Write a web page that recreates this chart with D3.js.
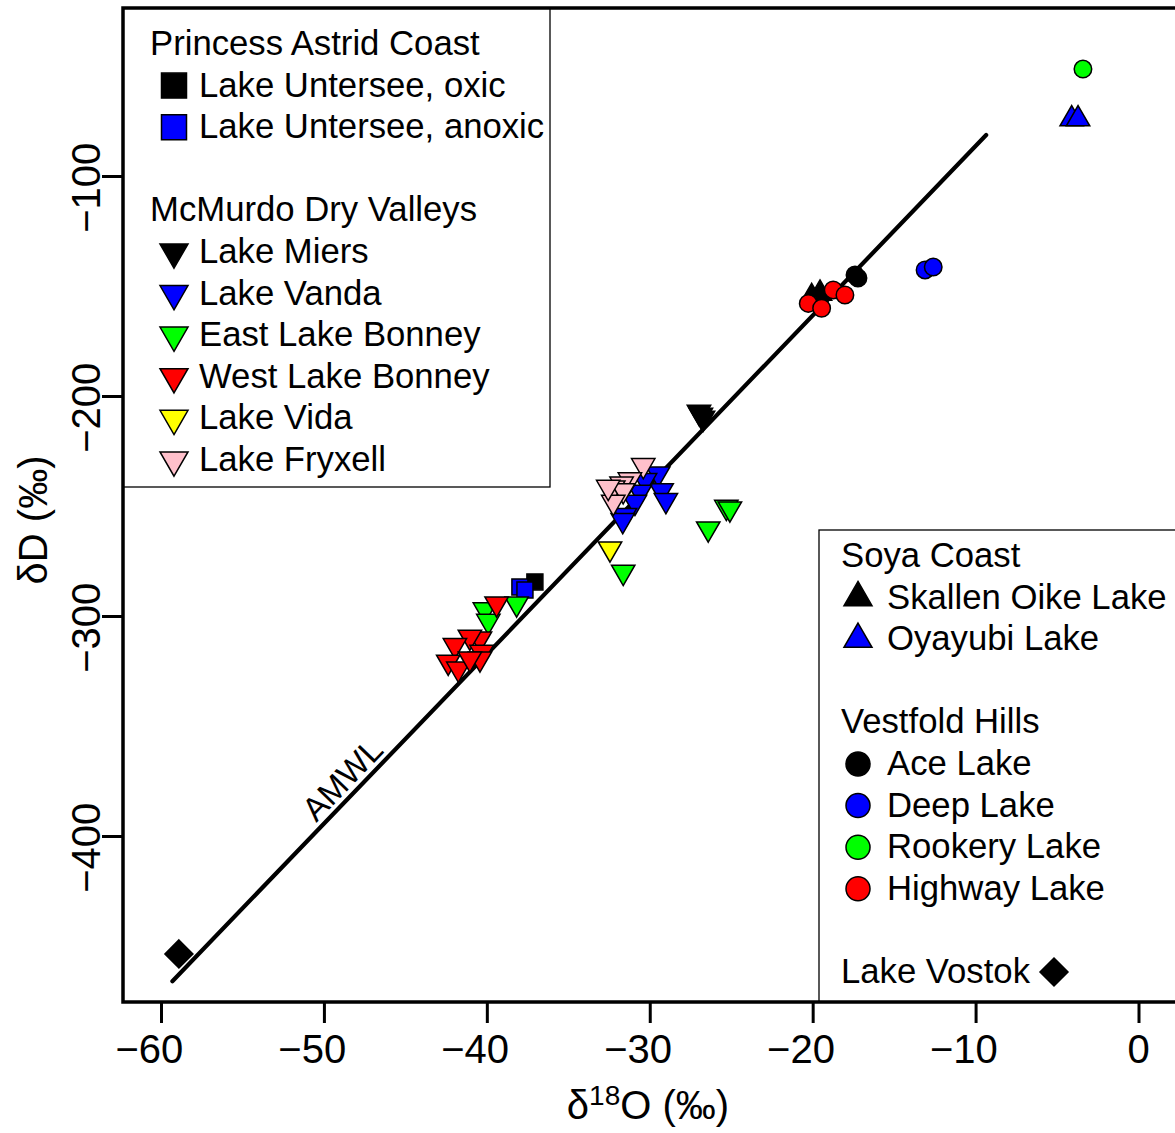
<!DOCTYPE html>
<html>
<head>
<meta charset="utf-8">
<script src="https://cdn.jsdelivr.net/npm/d3@7"></script>
<style>
  body { margin: 0; background: #fff; }
  svg { display: block; }
  text { font-family: "Liberation Sans", Arial, Helvetica, sans-serif; fill: #000; }
</style>
</head>
<body>
<svg id="chart" width="1175" height="1133"></svg>
<script>
// ---- axis ticks ----
const xTicks = [-60, -50, -40, -30, -20, -10, 0];
const yTicks = [-100, -200, -300, -400];

// ---- isotope data: [δ18O, δD] in ‰ ----
// Princess Astrid Coast
const unterseeOxic   = [[-37.05, -284.5]];
const unterseeAnoxic = [[-37.97, -286.8], [-37.66, -288.2]];
// McMurdo Dry Valleys
const lakeMiers = [[-26.98, -207.3], [-26.86, -208.6], [-26.73, -210.0]];
const lakeVanda = [[-29.48, -235.3], [-29.27, -242.9], [-29.01, -247.4], [-30.29, -238.3],
                   [-30.60, -243.6], [-30.91, -248.2], [-31.52, -254.2], [-31.66, -256.5]];
const eastBonney = [[-31.63, -280.0], [-26.41, -260.3], [-25.30, -250.5], [-25.08, -251.2],
                    [-38.17, -294.4], [-40.12, -297.1], [-39.91, -302.3]];
const westBonney = [[-39.40, -294.4], [-40.42, -310.3], [-41.04, -309.5], [-41.96, -313.3],
                    [-40.32, -316.4], [-42.37, -320.9], [-41.75, -324.0], [-40.42, -319.4],
                    [-41.04, -319.4]];
const lakeVida = [[-32.44, -269.4]];
const lakeFryxell = [[-30.40, -231.5], [-31.22, -238.0], [-31.73, -239.9], [-32.24, -241.7],
                     [-31.63, -242.9], [-32.24, -248.2], [-32.55, -241.4]];
// Soya Coast
const skallenOike = [[-20.06, -154.9], [-19.55, -153.4]];
const oyayubi = [[-4.10, -74.1], [-3.71, -74.1]];
// Vestfold Hills
const aceLake = [[-17.40, -145.0], [-17.22, -146.4]];
const deepLake = [[-13.10, -142.7], [-12.60, -141.4]];
const rookeryLake = [[-3.41, -51.4]];
const highwayLake = [[-20.27, -157.9], [-19.45, -160.1], [-18.74, -151.8], [-18.02, -154.1]];
// Lake Vostok accretion ice
const lakeVostok = [[-58.9, -453.6]];

// Antarctic meteoric water line: δD = slope·δ18O + intercept
const amwlSlope = 7.7;
const amwlIntercept = -9.4;
const amwlExtent = [-59.3, -9.35];

// ---- series table ----
const series = [
  { name: "Lake Untersee, oxic",   shape: "square",  fill: "#000000", pts: unterseeOxic },
  { name: "Lake Untersee, anoxic", shape: "square",  fill: "#0000ff", pts: unterseeAnoxic },
  { name: "Lake Miers",            shape: "triDown", fill: "#000000", pts: lakeMiers },
  { name: "Lake Vanda",            shape: "triDown", fill: "#0000ff", pts: lakeVanda },
  { name: "East Lake Bonney",      shape: "triDown", fill: "#00ff00", pts: eastBonney },
  { name: "West Lake Bonney",      shape: "triDown", fill: "#ff0000", pts: westBonney },
  { name: "Lake Vida",             shape: "triDown", fill: "#ffff00", pts: lakeVida },
  { name: "Lake Fryxell",          shape: "triDown", fill: "#ffc0cb", pts: lakeFryxell },
  { name: "Skallen Oike Lake",     shape: "triUp",   fill: "#000000", pts: skallenOike },
  { name: "Oyayubi Lake",          shape: "triUp",   fill: "#0000ff", pts: oyayubi },
  { name: "Ace Lake",              shape: "circle",  fill: "#000000", pts: aceLake },
  { name: "Deep Lake",             shape: "circle",  fill: "#0000ff", pts: deepLake },
  { name: "Rookery Lake",          shape: "circle",  fill: "#00ff00", pts: rookeryLake },
  { name: "Highway Lake",          shape: "circle",  fill: "#ff0000", pts: highwayLake },
  { name: "Lake Vostok",           shape: "diamond", fill: "#000000", pts: lakeVostok }
];
const byName = Object.fromEntries(series.map(s => [s.name, s]));

const legendLeft = [
  { header: "Princess Astrid Coast" },
  { item: "Lake Untersee, oxic" },
  { item: "Lake Untersee, anoxic" },
  {},
  { header: "McMurdo Dry Valleys" },
  { item: "Lake Miers" },
  { item: "Lake Vanda" },
  { item: "East Lake Bonney" },
  { item: "West Lake Bonney" },
  { item: "Lake Vida" },
  { item: "Lake Fryxell" }
];
const legendRight = [
  { header: "Soya Coast" },
  { item: "Skallen Oike Lake" },
  { item: "Oyayubi Lake" },
  {},
  { header: "Vestfold Hills" },
  { item: "Ace Lake" },
  { item: "Deep Lake" },
  { item: "Rookery Lake" },
  { item: "Highway Lake" },
  {},
  { trailing: "Lake Vostok" }
];

// ---- layout ----
const svg = d3.select("#chart");
const frame = { left: 123, top: 8, right: 1186, bottom: 1002 };
const x = d3.scaleLinear().domain([-60, 0]).range([161, 1138.5]);
const y = d3.scaleLinear().domain([-100, -400]).range([176, 836]);

// marker geometry: circle → diameter, square → side, triangle → width, diamond → diagonal
const plotSize   = { circle: 17.5, square: 16, triUp: 23.4, triDown: 23.4, diamond: 28 };
const legendSize = { circle: 24,   square: 25, triUp: 28,   triDown: 28,   diamond: 28 };

function markerPath(shape, s) {
  const p = d3.path();
  if (shape === "circle") {
    p.arc(0, 0, s / 2, 0, 2 * Math.PI);
  } else if (shape === "square") {
    p.rect(-s / 2, -s / 2, s, s);
  } else if (shape === "diamond") {
    const h = s / 2;
    p.moveTo(0, -h); p.lineTo(h, 0); p.lineTo(0, h); p.lineTo(-h, 0); p.closePath();
  } else {
    const h = s * Math.sqrt(3) / 2;
    const sgn = shape === "triUp" ? -1 : 1;
    p.moveTo(0, sgn * 2 * h / 3);
    p.lineTo(s / 2, -sgn * h / 3);
    p.lineTo(-s / 2, -sgn * h / 3);
    p.closePath();
  }
  return p.toString();
}

// ---- AMWL line ----
const amwl = amwlExtent.map(v => [v, amwlSlope * v + amwlIntercept]);
svg.append("line")
  .attr("x1", x(amwl[0][0])).attr("y1", y(amwl[0][1]))
  .attr("x2", x(amwl[1][0])).attr("y2", y(amwl[1][1]))
  .attr("stroke", "#000").attr("stroke-width", 4.2).attr("stroke-linecap", "round");

// line label, set along the line just above it
{
  const v = -48.1;
  const px = x(v), py = y(amwlSlope * v + amwlIntercept);
  const ang = Math.atan2(y(amwl[1][1]) - y(amwl[0][1]), x(amwl[1][0]) - x(amwl[0][0]));
  const off = 6;
  const nx = Math.sin(ang) * off, ny = -Math.cos(ang) * off;
  svg.append("text")
    .attr("transform", `translate(${px + nx},${py + ny}) rotate(${ang * 180 / Math.PI})`)
    .attr("text-anchor", "middle")
    .attr("font-size", 33)
    .text("AMWL");
}

// ---- data points ----
const gPts = svg.append("g");
series.forEach(s => {
  gPts.selectAll(null)
    .data(s.pts)
    .join("path")
    .attr("d", markerPath(s.shape, plotSize[s.shape]))
    .attr("transform", d => `translate(${x(d[0])},${y(d[1])})`)
    .attr("fill", s.fill)
    .attr("stroke", "#000")
    .attr("stroke-width", 1.5);
});

// ---- legends ----
function drawLegend(rows, box, opt) {
  const g = svg.append("g");
  g.append("rect")
    .attr("x", box.x).attr("y", box.y).attr("width", box.w).attr("height", box.h)
    .attr("fill", "#fff").attr("stroke", "#000").attr("stroke-width", 1.3);
  rows.forEach((r, i) => {
    const base = opt.firstBase + i * opt.step;
    if (r.header) {
      g.append("text").attr("x", opt.headerX).attr("y", base).attr("font-size", opt.fs).text(r.header);
    } else if (r.item) {
      const s = byName[r.item];
      g.append("path")
        .attr("d", markerPath(s.shape, legendSize[s.shape]))
        .attr("transform", `translate(${opt.markX},${base - 11})`)
        .attr("fill", s.fill).attr("stroke", "#000").attr("stroke-width", 1.5);
      g.append("text").attr("x", opt.textX).attr("y", base).attr("font-size", opt.fs).text(r.item);
    } else if (r.trailing) {
      const s = byName[r.trailing];
      const t = g.append("text").attr("x", opt.headerX).attr("y", base).attr("font-size", opt.fs).text(r.trailing);
      const w = t.node().getComputedTextLength();
      g.append("path")
        .attr("d", markerPath(s.shape, legendSize[s.shape]))
        .attr("transform", `translate(${opt.headerX + w + 24},${base - 11})`)
        .attr("fill", s.fill).attr("stroke", "#000").attr("stroke-width", 1.5);
    }
  });
}
drawLegend(legendLeft, { x: frame.left, y: frame.top, w: 427, h: 479 },
  { firstBase: 55, step: 41.6, headerX: 150, markX: 174, textX: 199, fs: 34.7 });
drawLegend(legendRight, { x: 819, y: 530, w: 420, h: frame.bottom - 530 },
  { firstBase: 567, step: 41.6, headerX: 841, markX: 858, textX: 887, fs: 34.7 });

// ---- frame ----
svg.append("rect")
  .attr("x", frame.left).attr("y", frame.top)
  .attr("width", frame.right - frame.left).attr("height", frame.bottom - frame.top)
  .attr("fill", "none").attr("stroke", "#000").attr("stroke-width", 3.5);

// ---- axes ----
const tickFs = 40;
const tickLen = 21;
const MINUS = "\u2212";

// x axis: ticks below the frame, digits centred under each tick
const gx = svg.append("g")
  .attr("transform", `translate(0,${frame.bottom})`)
  .call(d3.axisBottom(x).tickValues(xTicks).tickSize(tickLen).tickFormat(""));
gx.select(".domain").remove();
gx.selectAll(".tick line").attr("stroke", "#000").attr("stroke-width", 3);
xTicks.forEach(v => {
  const t = svg.append("text")
    .attr("x", x(v)).attr("y", 1063).attr("text-anchor", "middle").attr("font-size", tickFs)
    .text(Math.abs(v));
  if (v < 0) {
    const w = t.node().getComputedTextLength();
    svg.append("text").attr("x", x(v) - w / 2).attr("y", 1063)
      .attr("text-anchor", "end").attr("font-size", tickFs).text(MINUS);
  }
});

// y axis: ticks left of the frame, labels rotated
const gy = svg.append("g")
  .attr("transform", `translate(${frame.left},0)`)
  .call(d3.axisLeft(y).tickValues(yTicks).tickSize(tickLen).tickFormat(""));
gy.select(".domain").remove();
gy.selectAll(".tick line").attr("stroke", "#000").attr("stroke-width", 3);
yTicks.forEach(v => {
  const g = svg.append("g").attr("transform", `translate(100,${y(v)}) rotate(-90)`);
  const t = g.append("text").attr("x", 0).attr("y", 0)
    .attr("text-anchor", "middle").attr("font-size", tickFs).text(Math.abs(v));
  const w = t.node().getComputedTextLength();
  g.append("text").attr("x", -w / 2).attr("y", 0)
    .attr("text-anchor", "end").attr("font-size", tickFs).text(MINUS);
});

// axis titles
const xt = svg.append("text")
  .attr("x", 648).attr("y", 1119).attr("text-anchor", "middle").attr("font-size", 40);
xt.append("tspan").text("\u03b4");
xt.append("tspan").attr("font-size", 28).attr("dy", -14).text("18");
xt.append("tspan").attr("dy", 14).text("O (\u2030)");

svg.append("text")
  .attr("transform", "translate(47,520) rotate(-90)")
  .attr("text-anchor", "middle").attr("font-size", 40)
  .text("\u03b4D (\u2030)");
</script>
</body>
</html>
